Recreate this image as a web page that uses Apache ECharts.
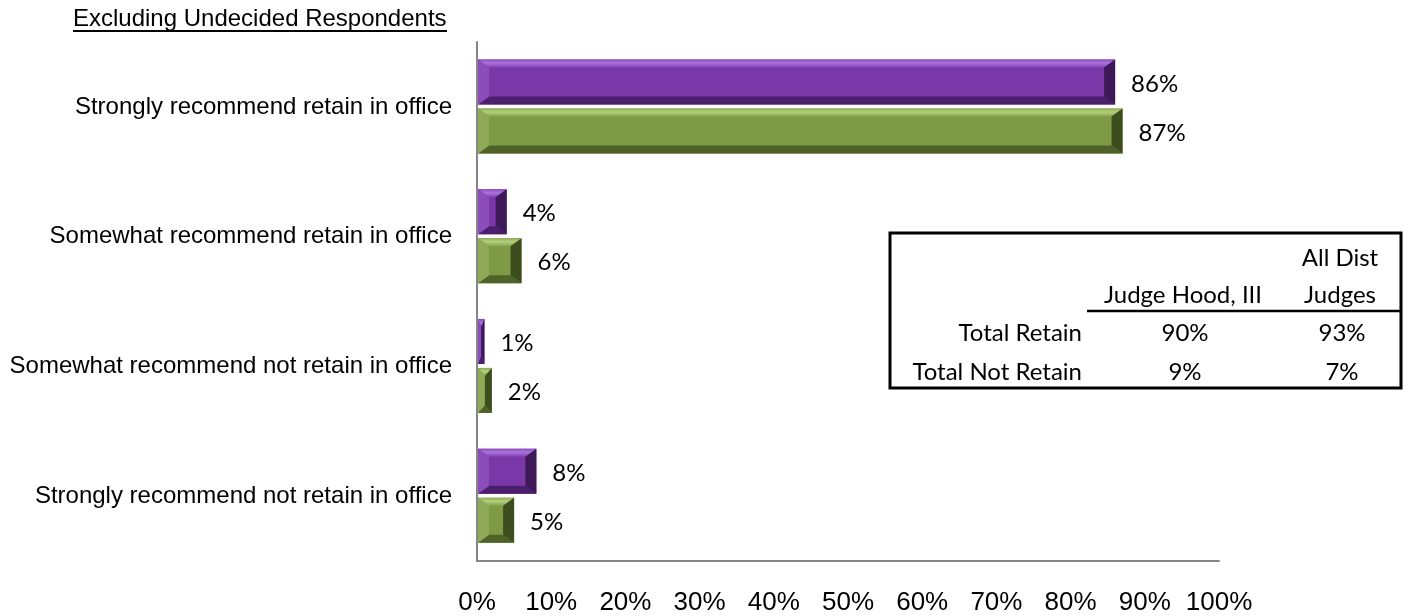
<!DOCTYPE html>
<html>
<head>
<meta charset="utf-8">
<script src="https://cdn.jsdelivr.net/npm/echarts@6/dist/echarts.min.js"></script>
<style>
html,body{margin:0;padding:0;background:#fff;}
#chart{width:1409px;height:616px;}
</style>
</head>
<body>
<div id="chart"></div>
<script>
const categories = [
  'Strongly recommend retain in office',
  'Somewhat recommend retain in office',
  'Somewhat recommend not retain in office',
  'Strongly recommend not retain in office'
];
const judgeHood = [86, 4, 1, 8];
const allDistJudges = [87, 6, 2, 5];
const xTicks = [0, 10, 20, 30, 40, 50, 60, 70, 80, 90, 100];
const subtitle = 'Excluding Undecided Respondents';
const tableHeader1 = ['', '', 'All Dist'];
const tableHeader2 = ['', 'Judge Hood, III', 'Judges'];
const tableRowLabels = ['Total Retain', 'Total Not Retain'];
const tableJudgeHood = ['90%', '9%'];
const tableAllDist = ['93%', '7%'];

const palettes = {
  purple: {face:'#7a37a8', topA:'#8a4bbb', topB:'#ab74da', topC:'#8444b4', bottom:'#4c1f6c', left:'#8b4dba', right:'#3d1958'},
  green:  {face:'#7f9a45', topA:'#8fab55', topB:'#b3d07e', topC:'#88a44e', bottom:'#4f6229', left:'#8ea957', right:'#3e4d1d'}
};

function makeRender(pal, offset) {
  return function (params, api) {
    const val = api.value(0);
    const cat = api.value(1);
    const pEnd = api.coord([val, cat]);
    const pStart = api.coord([0, cat]);
    const h = 45;
    const cy = pEnd[1] + offset;
    const x0 = pStart[0] + 1, x1 = pEnd[0];
    const y0 = cy - h / 2, y1 = cy + h / 2;
    const w = x1 - x0;
    const bx = Math.min(11, w / 2), by = 8;
    const children = [
      {type:'rect', shape:{x:x0, y:y0, width:w, height:h}, style:{fill:pal.face}},
      {type:'polygon', shape:{points:[[x0,y0],[x1,y0],[x1-bx,y0+by],[x0+bx,y0+by]]},
        style:{fill:{type:'linear',x:0,y:0,x2:0,y2:1,colorStops:[{offset:0,color:pal.topA},{offset:0.45,color:pal.topB},{offset:1,color:pal.topC}]}}},
      {type:'polygon', shape:{points:[[x0,y1],[x1,y1],[x1-bx,y1-by],[x0+bx,y1-by]]},
        style:{fill:pal.bottom}},
      {type:'polygon', shape:{points:[[x0,y0],[x0+bx,y0+by],[x0+bx,y1-by],[x0,y1]]},
        style:{fill:pal.left}},
      {type:'polygon', shape:{points:[[x1,y0],[x1-bx,y0+by],[x1-bx,y1-by],[x1,y1]]},
        style:{fill:pal.right}},
      {type:'text', style:{x:x1 + 16, y:cy + 2, text:val + '%', fill:'#000', font:'24px Lato', verticalAlign:'middle', align:'left'}}
    ];
    return {type:'group', children: children};
  };
}

const chart = echarts.init(document.getElementById('chart'), null, {renderer:'canvas'});

const tx = 890, ty = 233, tw = 511, th = 155;
const tableFont = '24px Lato';
const graphics = [
  {type:'text', left:73, top:7, style:{text:subtitle, font:'24px "Liberation Sans", Arial', fill:'#000'}},
  {type:'line', shape:{x1:73, y1:31, x2:447, y2:31}, style:{stroke:'#000', lineWidth:2}},
  {type:'rect', shape:{x:tx, y:ty, width:tw, height:th}, style:{fill:'#fff', stroke:'#000', lineWidth:3}, z:10},
  {type:'line', shape:{x1:1087, y1:311, x2:1400, y2:311}, style:{stroke:'#000', lineWidth:2.5}, z:11},
  {type:'text', x:1340, y:258, style:{text:tableHeader1[2], font:tableFont, fill:'#000', align:'center', verticalAlign:'middle'}, z:11},
  {type:'text', x:1183, y:295, style:{text:tableHeader2[1], font:tableFont, fill:'#000', align:'center', verticalAlign:'middle'}, z:11},
  {type:'text', x:1340, y:295, style:{text:tableHeader2[2], font:tableFont, fill:'#000', align:'center', verticalAlign:'middle'}, z:11}
];
const rowY = [333, 372];
tableRowLabels.forEach(function (lab, i) {
  graphics.push({type:'text', x:1082, y:rowY[i], style:{text:lab, font:tableFont, fill:'#000', align:'right', verticalAlign:'middle'}, z:11});
  graphics.push({type:'text', x:1185, y:rowY[i], style:{text:tableJudgeHood[i], font:tableFont, fill:'#000', align:'center', verticalAlign:'middle'}, z:11});
  graphics.push({type:'text', x:1342, y:rowY[i], style:{text:tableAllDist[i], font:tableFont, fill:'#000', align:'center', verticalAlign:'middle'}, z:11});
});

chart.setOption({
  animation:false,
  backgroundColor:'#fff',
  grid:{left:477, right:190, top:42, bottom:54, containLabel:false},
  xAxis:{
    type:'value', min:xTicks[0], max:xTicks[xTicks.length-1], interval:10,
    axisLine:{show:true, lineStyle:{color:'#868686', width:2}},
    axisTick:{show:false},
    splitLine:{show:false},
    axisLabel:{formatter:'{value}%', color:'#000', fontSize:26, fontFamily:'"Liberation Sans", Arial', margin:29}
  },
  yAxis:{
    type:'category', data:categories, inverse:true,
    axisLine:{show:true, lineStyle:{color:'#868686', width:2}},
    axisTick:{show:false},
    axisLabel:{color:'#000', fontSize:24, fontFamily:'"Liberation Sans", Arial', margin:25}
  },
  series:[
    {type:'custom', name:'Judge Hood, III', renderItem:makeRender(palettes.purple, -25),
      encode:{x:0, y:1}, data:judgeHood.map(function(v,i){return [v,i];}), clip:false},
    {type:'custom', name:'All Dist Judges', renderItem:makeRender(palettes.green, 24),
      encode:{x:0, y:1}, data:allDistJudges.map(function(v,i){return [v,i];}), clip:false}
  ],
  graphic:graphics
});
</script>
</body>
</html>
